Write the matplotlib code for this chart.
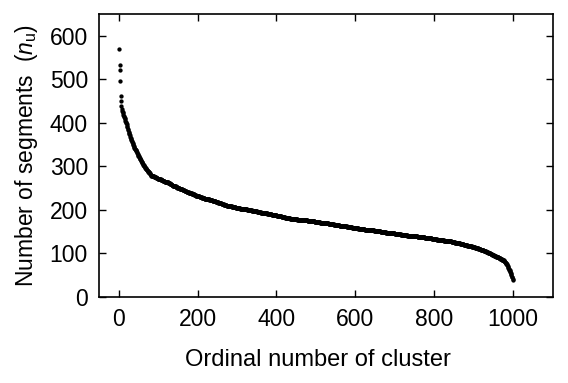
import matplotlib
matplotlib.use("Agg")
import matplotlib.pyplot as plt

plt.rcParams['font.family'] = ['Liberation Sans', 'DejaVu Sans']
plt.rcParams['mathtext.fontset'] = 'custom'
plt.rcParams['mathtext.rm'] = 'Liberation Sans'
plt.rcParams['mathtext.it'] = 'Liberation Sans:italic'

# Number of segments per cluster, sorted descending (cluster ordinal 1..1000)
segments = [
    570, 533, 522, 496, 462, 450, 439, 432, 428, 425,
    422, 419, 416, 413, 410, 408, 405, 403, 400, 397,
    393, 390, 387, 384, 380, 377, 374, 371, 368, 365,
    362, 360, 358, 356, 353, 351, 349, 347, 345, 343,
    341, 339, 338, 337, 335, 333, 331, 329, 327, 325,
    323, 322, 320, 318, 316, 314, 313, 311, 309, 307,
    306, 304, 303, 301, 300, 298, 297, 296, 294, 293,
    292, 291, 290, 289, 288, 287, 286, 285, 284, 283,
    281, 280, 279, 279, 278, 278, 278, 277, 277, 276,
    276, 276, 275, 275, 274, 274, 273, 273, 272, 272,
    272, 271, 271, 271, 270, 270, 269, 269, 268, 268,
    268, 267, 267, 266, 266, 266, 265, 265, 265, 264,
    264, 264, 263, 263, 263, 262, 262, 261, 261, 260,
    260, 259, 259, 258, 258, 257, 256, 256, 255, 255,
    255, 254, 254, 254, 253, 253, 252, 252, 251, 251,
    251, 250, 250, 250, 249, 249, 248, 248, 248, 247,
    247, 246, 246, 246, 245, 245, 244, 244, 244, 243,
    243, 242, 242, 242, 241, 241, 241, 240, 240, 240,
    239, 239, 239, 238, 238, 237, 237, 237, 236, 236,
    236, 235, 235, 234, 234, 233, 233, 233, 232, 232,
    232, 231, 231, 231, 230, 230, 230, 229, 229, 229,
    228, 228, 228, 227, 227, 227, 227, 226, 226, 226,
    226, 225, 225, 225, 225, 224, 224, 224, 224, 223,
    223, 223, 223, 222, 222, 222, 222, 221, 221, 221,
    221, 220, 220, 220, 220, 219, 219, 219, 219, 218,
    218, 218, 217, 217, 217, 216, 216, 216, 215, 215,
    214, 214, 214, 213, 213, 213, 212, 212, 212, 211,
    211, 211, 211, 210, 210, 210, 210, 210, 209, 209,
    209, 209, 208, 208, 208, 208, 207, 207, 207, 207,
    207, 206, 206, 206, 206, 206, 205, 205, 205, 205,
    205, 204, 204, 204, 204, 204, 204, 203, 203, 203,
    203, 203, 203, 202, 202, 202, 202, 202, 202, 201,
    201, 201, 201, 201, 201, 200, 200, 200, 200, 200,
    200, 199, 199, 199, 199, 199, 199, 198, 198, 198,
    198, 198, 198, 198, 197, 197, 197, 197, 197, 197,
    196, 196, 196, 196, 196, 195, 195, 195, 195, 195,
    194, 194, 194, 194, 194, 194, 193, 193, 193, 193,
    193, 192, 192, 192, 192, 192, 191, 191, 191, 191,
    191, 191, 190, 190, 190, 190, 190, 189, 189, 189,
    189, 189, 189, 188, 188, 188, 188, 188, 188, 188,
    187, 187, 187, 187, 186, 186, 186, 186, 185, 185,
    185, 185, 184, 184, 184, 184, 183, 183, 183, 183,
    183, 182, 182, 182, 182, 182, 182, 181, 181, 181,
    181, 181, 181, 181, 180, 180, 180, 180, 180, 180,
    180, 180, 180, 179, 179, 179, 179, 179, 179, 179,
    179, 179, 178, 178, 178, 178, 178, 178, 178, 178,
    177, 177, 177, 177, 177, 177, 177, 177, 177, 176,
    176, 176, 176, 176, 176, 176, 176, 176, 175, 175,
    175, 175, 175, 175, 175, 175, 175, 174, 174, 174,
    174, 174, 174, 174, 174, 174, 173, 173, 173, 173,
    173, 173, 173, 172, 172, 172, 172, 172, 172, 172,
    171, 171, 171, 171, 171, 171, 171, 170, 170, 170,
    170, 170, 170, 170, 169, 169, 169, 169, 169, 169,
    169, 168, 168, 168, 168, 168, 168, 168, 167, 167,
    167, 167, 167, 167, 167, 166, 166, 166, 166, 166,
    166, 166, 165, 165, 165, 165, 165, 165, 165, 164,
    164, 164, 164, 164, 164, 163, 163, 163, 163, 163,
    163, 163, 162, 162, 162, 162, 162, 162, 161, 161,
    161, 161, 161, 161, 161, 160, 160, 160, 160, 160,
    160, 159, 159, 159, 159, 159, 159, 159, 158, 158,
    158, 158, 158, 158, 158, 158, 158, 157, 157, 157,
    157, 157, 157, 157, 157, 156, 156, 156, 156, 156,
    156, 156, 156, 155, 155, 155, 155, 155, 155, 155,
    155, 154, 154, 154, 154, 154, 154, 154, 154, 153,
    153, 153, 153, 153, 153, 153, 153, 152, 152, 152,
    152, 152, 152, 152, 152, 151, 151, 151, 151, 151,
    151, 151, 151, 150, 150, 150, 150, 150, 150, 150,
    149, 149, 149, 149, 149, 149, 149, 148, 148, 148,
    148, 148, 148, 148, 147, 147, 147, 147, 147, 147,
    147, 146, 146, 146, 146, 146, 146, 146, 146, 145,
    145, 145, 145, 145, 145, 145, 145, 144, 144, 144,
    144, 144, 144, 144, 144, 143, 143, 143, 143, 143,
    143, 143, 143, 142, 142, 142, 142, 142, 142, 142,
    142, 141, 141, 141, 141, 141, 141, 141, 141, 140,
    140, 140, 140, 140, 140, 140, 140, 140, 139, 139,
    139, 139, 139, 139, 139, 139, 139, 138, 138, 138,
    138, 138, 138, 138, 138, 138, 137, 137, 137, 137,
    137, 137, 137, 137, 137, 136, 136, 136, 136, 136,
    136, 136, 136, 136, 135, 135, 135, 135, 135, 135,
    135, 135, 135, 134, 134, 134, 134, 134, 134, 134,
    133, 133, 133, 133, 133, 133, 132, 132, 132, 132,
    132, 132, 131, 131, 131, 131, 131, 131, 130, 130,
    130, 130, 130, 130, 129, 129, 129, 129, 129, 129,
    128, 128, 128, 128, 128, 128, 128, 128, 128, 128,
    128, 128, 128, 127, 127, 127, 127, 127, 126, 126,
    126, 126, 125, 125, 125, 125, 124, 124, 124, 124,
    124, 123, 123, 123, 123, 122, 122, 122, 122, 121,
    121, 121, 121, 121, 120, 120, 120, 120, 120, 119,
    119, 119, 119, 118, 118, 118, 118, 117, 117, 117,
    117, 116, 116, 116, 116, 115, 115, 115, 115, 114,
    114, 114, 114, 113, 113, 113, 113, 112, 112, 112,
    112, 111, 111, 111, 110, 110, 110, 109, 109, 108,
    108, 108, 107, 107, 107, 106, 106, 106, 105, 105,
    105, 104, 104, 103, 103, 103, 102, 102, 101, 101,
    100, 100, 99, 99, 98, 98, 97, 97, 97, 96,
    96, 95, 95, 95, 94, 94, 93, 93, 93, 92,
    92, 91, 91, 90, 90, 89, 89, 88, 88, 87,
    87, 86, 86, 85, 85, 84, 83, 82, 81, 80,
    79, 78, 76, 75, 73, 71, 69, 67, 65, 63,
    61, 59, 57, 54, 52, 50, 47, 45, 42, 38,
]
ordinals = list(range(1, len(segments) + 1))

x_ticks = [0, 200, 400, 600, 800, 1000]
y_ticks = [0, 100, 200, 300, 400, 500, 600]

fig = plt.figure(figsize=(5.68, 3.83), dpi=100)
ax = fig.add_axes([99 / 568, 1 - 297 / 383, (552.5 - 99) / 568, (297 - 14) / 383])

ax.plot(ordinals, segments, linestyle='none', marker='o', markersize=3.1,
        color='black', markeredgewidth=0)

ax.set_xlim(-50, 1100)
ax.set_ylim(0, 650)
ax.set_xticks(x_ticks)
ax.set_yticks(y_ticks)
ax.tick_params(direction='in', length=5, width=1, top=True, right=True,
               labelsize=16.5, pad=8, colors='black')
for s in ax.spines.values():
    s.set_linewidth(1.2)

ax.set_xlabel('Ordinal number of cluster', fontsize=17)
ax.xaxis.set_label_coords(0.482, -0.185)
ax.set_ylabel(r'Number of segments  ($n_\mathrm{u}$)', fontsize=16.5, labelpad=7)

fig.savefig('out.png', dpi=100)
